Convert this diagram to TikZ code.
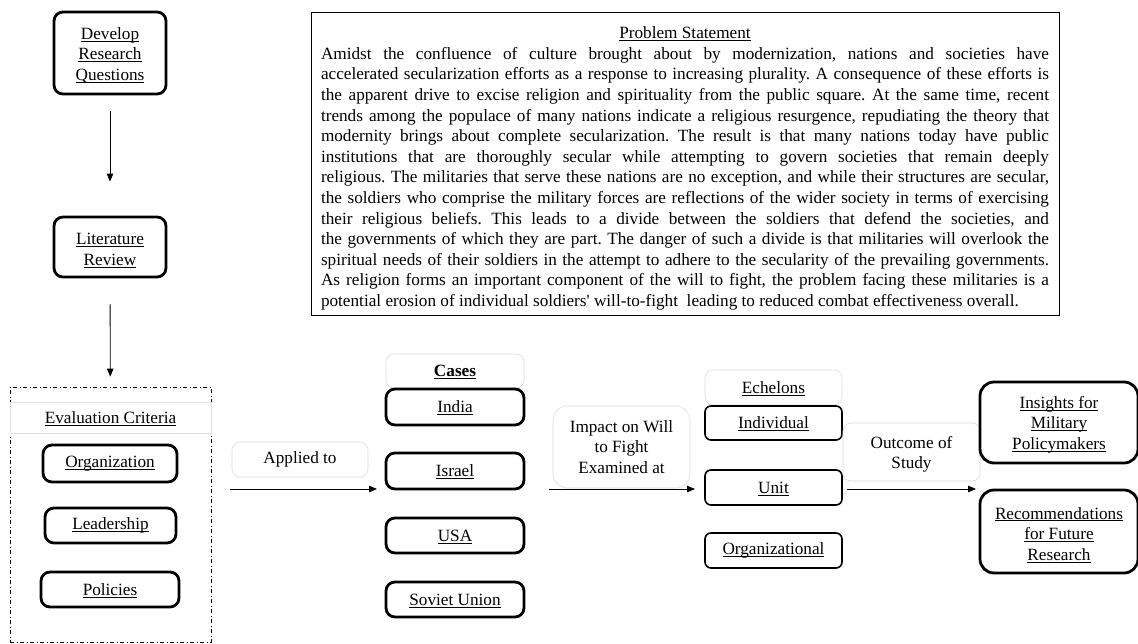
\documentclass[tikz,border=0pt]{standalone}
\usepackage{fontspec}
\setmainfont{Liberation Serif}
\usetikzlibrary{arrows.meta}
\newcommand{\ulx}[1]{\setbox0\hbox{#1}\rlap{\smash{\rule[-2.2pt]{\wd0}{0.8pt}}}\box0}
\newcommand{\jl}[1]{\makebox[728pt][s]{#1}\par}
\newcommand{\topst}{\rule{0pt}{16.5pt}}
\tikzset{
  every node/.style={font=\fontsize{17.2}{20.6}\selectfont, inner sep=0pt, align=center},
  thickbox/.style={draw, line width=2.8pt, rounded corners=9pt},
  medbox/.style={draw, line width=1.6pt, rounded corners=6pt},
  faintbox/.style={draw=black!14, line width=0.6pt, rounded corners=8pt},
  arr/.style={line width=0.8pt, -{Triangle[length=8pt,width=6.5pt]}},
}
\begin{document}
\frenchspacing
\begin{tikzpicture}[x=1pt,y=-1pt]
\useasboundingbox (0,0) rectangle (1138,643);
% left column
\node[thickbox, minimum width=112pt, minimum height=82pt] (drq) at (110,53)
  {\topst\ulx{Develop}\\\ulx{Research}\\\ulx{Questions}};
\node[thickbox, minimum width=112pt, minimum height=60pt] (lit) at (110,247)
  {\topst\ulx{Literature}\\\ulx{Review}};
\node[draw, line width=0.8pt, dash pattern=on 4pt off 2.5pt on 1pt off 2.5pt,
  minimum width=201pt, minimum height=255pt] (evalbox) at (110.5,514.5) {};
\node[draw=black!12, line width=0.6pt, minimum width=201pt, minimum height=31pt] (evalhd) at (110.5,417.5)
  {\ulx{Evaluation Criteria}};
\node[thickbox, minimum width=134pt, minimum height=37pt] (org) at (110,463.5) {\ulx{Organization}};
\node[thickbox, minimum width=131pt, minimum height=35pt] (lead) at (110.5,525.5) {\ulx{Leadership}};
\node[thickbox, minimum width=138pt, minimum height=35pt] (pol) at (110,589.5) {\ulx{Policies}};
\draw[arr, shorten <=16pt, shorten >=34pt] (drq) -- (lit);
\draw[arr, shorten <=26pt, shorten >=10pt] (lit) -- (evalbox);
% applied to
\node[faintbox, minimum width=136pt, minimum height=35pt] (applied) at (300,459.5) {Applied to};
\coordinate (a1s) at (230,489);
\coordinate (a1e) at (377,489);
\draw[arr] (a1s) -- (a1e);
% cases
\node[faintbox, minimum width=138pt, minimum height=34pt] (caseshd) at (455,371) {\ulx{\bfseries Cases}};
\node[thickbox, minimum width=138pt, minimum height=36pt] (india) at (455,407) {\ulx{India}};
\node[thickbox, minimum width=138pt, minimum height=36pt] (israel) at (455,471) {\ulx{Israel}};
\node[thickbox, minimum width=138pt, minimum height=35pt] (usa) at (455,535.5) {\ulx{USA}};
\node[thickbox, minimum width=138pt, minimum height=35pt] (soviet) at (455,599.5) {\ulx{Soviet Union}};
% impact
\node[faintbox, rounded corners=14pt, minimum width=137pt, minimum height=82pt] (impact) at (621.5,447)
  {Impact on Will\\to Fight\\Examined at};
\coordinate (a2s) at (549,489);
\coordinate (a2e) at (695,489);
\draw[arr] (a2s) -- (a2e);
% echelons
\node[faintbox, minimum width=137pt, minimum height=35pt] (echhd) at (773.5,387.5) {\ulx{Echelons}};
\node[medbox, minimum width=137pt, minimum height=34pt] (indiv) at (773.5,423) {\ulx{Individual}};
\node[medbox, minimum width=137pt, minimum height=35pt] (unit) at (773.5,487.5) {\ulx{Unit}};
\node[medbox, minimum width=137pt, minimum height=35pt] (orgl) at (773.5,550.5) {\ulx{Organizational}};
% outcome
\node[faintbox, minimum width=137pt, minimum height=58pt] (outcome) at (911.5,452) {\topst Outcome of\\Study};
\coordinate (a3s) at (847,489);
\coordinate (a3e) at (976,489);
\draw[arr] (a3s) -- (a3e);
% results
\node[thickbox, rounded corners=14pt, minimum width=158pt, minimum height=81pt] (insights) at (1059,422.5)
  {\topst\ulx{Insights for}\\\ulx{Military}\\\ulx{Policymakers}};
\node[thickbox, rounded corners=14pt, minimum width=158pt, minimum height=83pt] (recom) at (1059,531.5)
  {\topst\ulx{Recommendations}\\\ulx{for Future}\\\ulx{Research}};
% problem statement
\node[draw, line width=1pt, minimum width=748pt, minimum height=303pt] (probbox) at (685.5,163.5) {};
\node[align=justify, text width=728pt, anchor=center] (probtext) at (685,168.5) {%
\centering\ulx{Problem Statement}\par
\raggedright
\jl{Amidst the confluence of culture brought about by modernization, nations and societies have}
\jl{accelerated secularization efforts as a response to increasing plurality. A consequence of these efforts is}
\jl{the apparent drive to excise religion and spirituality from the public square. At the same time, recent}
\jl{trends among the populace of many nations indicate a religious resurgence, repudiating the theory that}
\jl{modernity brings about complete secularization. The result is that many nations today have public}
\jl{institutions that are thoroughly secular while attempting to govern societies that remain deeply}
\jl{religious. The militaries that serve these nations are no exception, and while their structures are secular,}
\jl{the soldiers who comprise the military forces are reflections of the wider society in terms of exercising}
\jl{their religious beliefs. This leads to a divide between the soldiers that defend the societies, and}
\jl{the governments of which they are part. The danger of such a divide is that militaries will overlook the}
\jl{spiritual needs of their soldiers in the attempt to adhere to the secularity of the prevailing governments.}
\jl{As religion forms an important component of the will to fight, the problem facing these militaries is a}
potential erosion of individual soldiers\textquotesingle{} will-to-fight\ \ leading to reduced combat effectiveness overall.\par};
\end{tikzpicture}
\end{document}
